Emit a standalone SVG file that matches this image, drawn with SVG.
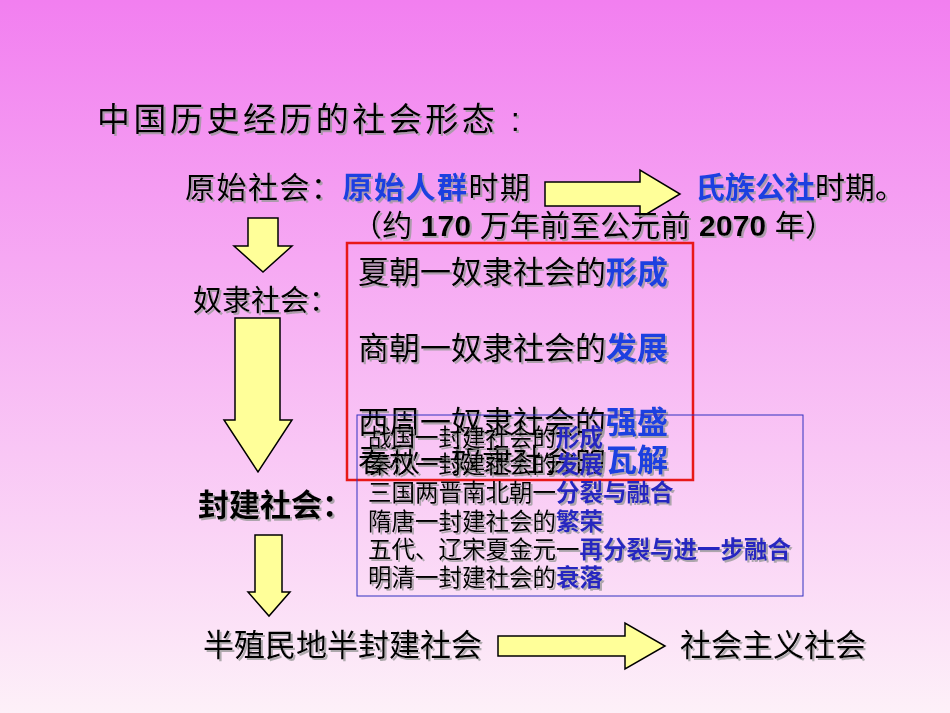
<svg xmlns="http://www.w3.org/2000/svg" width="950" height="713" viewBox="0 0 950 713">
<defs>
<linearGradient id="bg" x1="0" y1="0" x2="0" y2="1"><stop offset="0" stop-color="#f27ff0"/><stop offset="1" stop-color="#fdf0f8"/></linearGradient>
<filter id="sh" x="-5%" y="-20%" width="110%" height="140%"><feDropShadow dx="2" dy="2" stdDeviation="0.3" flood-color="#999" flood-opacity="0.8"/></filter>
</defs>
<style>
text{font-family:"Liberation Sans","Noto Sans CJK SC",sans-serif;fill:#000;filter:url(#sh)}
.b{fill:#1a3fe0;font-weight:bold}
.p{fill:#2828c0;font-weight:bold}
.ar{fill:#ffff99;stroke:#000;stroke-width:1.5}
</style>
<rect width="950" height="713" fill="url(#bg)"/>
<text x="97" y="131" font-size="33" textLength="423">中国历史经历的社会形态 :</text>
<g id="connectors">
<path class="ar" d="M545 182H640V170L680 194L640 218V206H545Z"/>
<path class="ar" d="M248 218H278V246H292L263 272L234 246H248Z"/>
<path class="ar" d="M235 318H280V420H292L258 472L224 420H235Z"/>
<path class="ar" d="M255 535H282V592H290L269 616L248 592H255Z"/>
<path class="ar" d="M498 636H625V623L665 646L625 669V656H498Z"/>
</g>
<g id="primitive" font-size="30">
<text x="185" y="198" textLength="345">原始社会：<tspan class="b">原始人群</tspan>时期</text>
<text x="695" y="198"><tspan class="b">氏族公社</tspan>时期。</text>
<text x="352" y="236" textLength="483">（约 <tspan font-weight="bold">170</tspan> 万年前至公元前 <tspan font-weight="bold">2070</tspan> 年）</text>
</g>
<g id="slave">
<text x="193" y="311" font-size="29">奴隶社会：</text>
<rect x="347" y="243" width="346" height="237" fill="none" stroke="#e81818" stroke-width="2.5"/>
<g font-size="31">
<text x="358" y="283">夏朝一奴隶社会的<tspan class="b">形成</tspan></text>
<text x="358" y="359">商朝一奴隶社会的<tspan class="b">发展</tspan></text>
<text x="358" y="433">西周一奴隶社会的<tspan class="b">强盛</tspan></text>
<text x="358" y="471">春秋一奴隶社会的<tspan class="b">瓦解</tspan></text>
</g>
</g>
<g id="feudal">
<text x="198" y="516" font-size="31" font-weight="bold">封建社会：</text>
<rect x="357" y="415" width="446" height="181" fill="none" stroke="#3030c0" stroke-width="1"/>
<g font-size="23.5">
<text x="368" y="446">战国一封建社会的<tspan class="p">形成</tspan></text>
<text x="368" y="473">秦汉一封建社会的<tspan class="p">发展</tspan></text>
<text x="368" y="501">三国两晋南北朝一<tspan class="p">分裂与融合</tspan></text>
<text x="368" y="530">隋唐一封建社会的<tspan class="p">繁荣</tspan></text>
<text x="368" y="558">五代、辽宋夏金元一<tspan class="p">再分裂与进一步融合</tspan></text>
<text x="368" y="586">明清一封建社会的<tspan class="p">衰落</tspan></text>
</g>
</g>
<g id="modern" font-size="31">
<text x="203" y="656">半殖民地半封建社会</text>
<text x="680" y="656">社会主义社会</text>
</g>
</svg>
